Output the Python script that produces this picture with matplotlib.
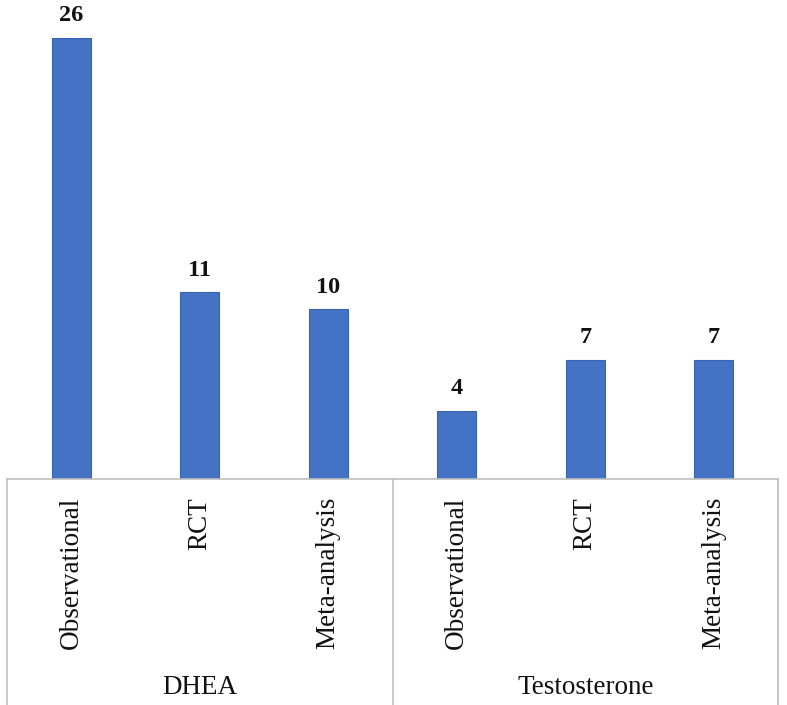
import matplotlib
matplotlib.use("Agg")
import matplotlib.pyplot as plt
from matplotlib.transforms import blended_transform_factory
from matplotlib.lines import Line2D

groups = ["DHEA", "Testosterone"]
categories = ["Observational", "RCT", "Meta-analysis"]
values = [26, 11, 10, 4, 7, 7]

plt.rcParams['font.family'] = ['Liberation Serif', 'DejaVu Serif']

W, H = 787, 705
fig = plt.figure(figsize=(W / 100, H / 100), dpi=100)
base_y = 479
top_y = 38
left_x, right_x = 7, 778
ax = fig.add_axes([left_x / W, 1 - base_y / H, (right_x - left_x) / W, (base_y - top_y) / H])

n = len(values)
xs = list(range(n))
labels = categories * len(groups)
ax.bar(xs, values, width=0.30, color="#4472C4", edgecolor="#3A64B0", linewidth=0.8)
for x, v in zip(xs, values):
    ax.annotate(str(v), (x, v), xytext=(0, 8.5), textcoords="offset points",
                ha="center", va="bottom", fontsize=17.5, fontweight="bold", color="#111111")

ax.set_xlim(-0.5, n - 0.5)
ax.set_ylim(0, max(values))
ax.set_yticks([])
ax.set_xticks(xs)
ax.set_xticklabels(labels, rotation=90, fontsize=19.5, color="#111111")
ax.tick_params(axis="x", length=0, pad=13)
for s in ["top", "left", "right"]:
    ax.spines[s].set_visible(False)
ax.spines["bottom"].set_color("#BFBFBF")
ax.spines["bottom"].set_linewidth(1.2)

tr = blended_transform_factory(ax.transData, fig.transFigure)
k = len(categories)
for gi in range(len(groups) + 1):
    xb = gi * k - 0.5
    fig.add_artist(Line2D([xb, xb], [0, 1 - base_y / H], transform=tr,
                          color="#BFBFBF", linewidth=1.2))
for gi, g in enumerate(groups):
    xc = gi * k + (k - 1) / 2
    fig.text(xc, 1 - 688 / H, g, transform=tr, ha="center", va="center",
             fontsize=19.5, color="#111111")

fig.savefig("out.png", dpi=100)
